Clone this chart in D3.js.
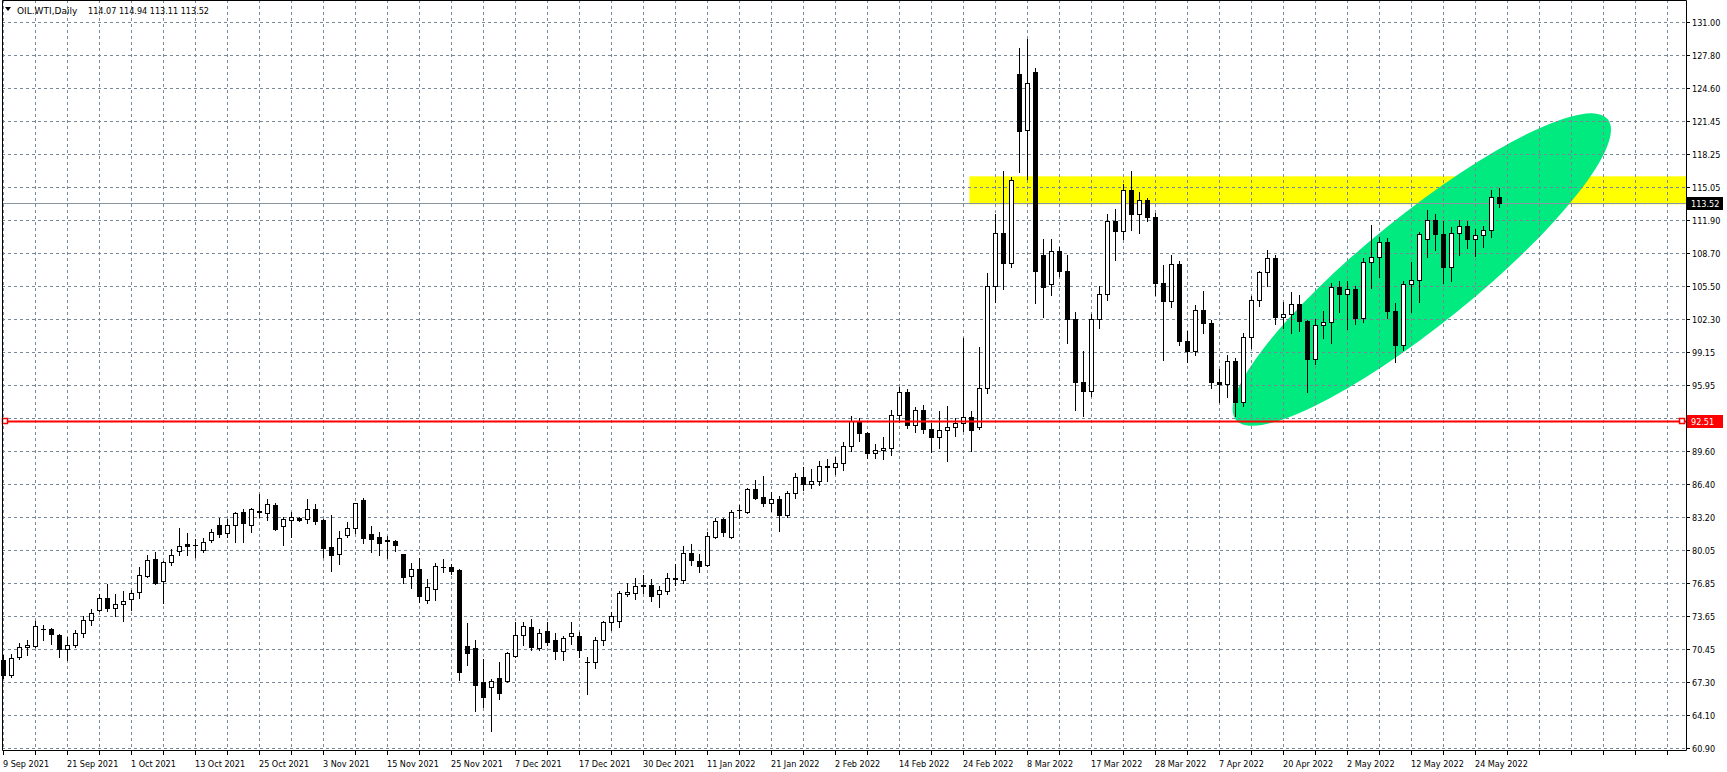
<!DOCTYPE html>
<html><head><meta charset="utf-8">
<script src="https://cdn.jsdelivr.net/npm/d3@7"></script>
<style>
html,body{margin:0;padding:0;background:#fff;overflow:hidden}
svg{display:block}
text{font-family:"DejaVu Sans Condensed","DejaVu Sans",sans-serif;font-size:9px;fill:#000}
text.sym{font-family:"DejaVu Sans",sans-serif}
</style></head><body>
<svg id="c" width="1727" height="772"></svg>
<script>
// ---- data (daily bars, index 0 = 9 Sep 2021) ----
const opens = [69.38,67.94,69.7,70.65,70.75,72.37,72.4,71.83,70.49,70.81,71.99,73.26,74.25,75.43,74.38,74.76,
75.25,75.98,77.51,79.17,77.0,78.85,79.9,80.55,80.5,80.03,80.98,82.42,81.62,82.48,83.69,82.48,
83.79,83.63,84.33,82.29,82.93,83.08,82.99,83.95,82.93,80.27,79.67,81.46,82.1,84.81,81.56,81.24,
80.95,80.91,79.67,77.5,78.2,75.21,76.29,78.36,78.33,78.04,70.75,70.56,67.24,66.83,67.69,67.37,
69.79,71.77,72.56,70.56,72.18,71.32,70.27,71.7,71.7,69.22,69.22,71.29,73.04,73.14,75.81,75.91,
76.55,76.63,75.8,76.06,77.27,77.08,79.72,78.99,78.54,81.25,83.0,81.32,83.87,83.64,85.87,85.14,
84.6,84.9,83.4,85.5,87.1,86.4,86.7,88.1,88.0,88.4,90.1,92.5,91.3,89.4,89.7,89.9,
93.1,95.3,92.1,93.5,91.7,90.9,91.6,91.9,92.3,92.9,91.9,95.7,105.5,110.6,107.7,126.0,
120.6,126.2,108.5,105.7,108.9,107.0,102.3,96.2,95.4,102.3,104.7,111.8,110.8,114.8,112.5,113.8,
112.2,105.8,104.1,107.6,100.2,99.2,103.2,101.9,96.2,96.0,98.3,94.3,100.6,104.2,106.9,108.2,
102.5,102.8,103.8,102.1,98.5,101.7,102.0,105.4,104.7,105.2,102.4,107.8,108.3,109.8,103.1,99.8,
105.7,106.1,110.0,111.9,110.5,107.3,110.6,111.3,110.0,110.4,110.9,114.07];
const highs = [69.85,70.01,71.07,71.29,73.2,72.79,72.5,71.9,71.57,72.31,73.68,74.32,75.75,76.7,75.75,76.07,
76.14,78.37,79.55,79.87,78.91,80.12,82.19,81.65,81.08,81.14,82.04,83.15,82.99,83.72,83.95,84.07,
85.44,84.9,84.52,83.24,83.72,83.2,84.9,84.43,82.99,83.36,81.87,82.7,84.58,85.0,82.35,81.72,
81.4,81.0,79.67,78.78,79.25,77.18,78.78,79.16,78.62,78.14,72.98,71.29,69.54,67.56,69.22,70.17,
73.1,73.04,73.36,72.4,73.1,71.99,71.7,73.04,72.08,69.7,71.61,73.2,74.06,76.07,76.86,77.34,
77.65,77.17,76.54,77.75,78.67,80.36,80.58,79.63,81.73,83.13,83.13,83.87,84.34,86.0,86.73,87.15,
85.6,85.2,85.7,87.5,88.0,87.8,88.6,88.8,89.0,90.4,93.0,92.8,91.4,90.3,90.9,93.5,
95.8,95.6,93.8,94.0,92.3,93.4,93.9,92.8,100.5,93.4,99.6,106.8,112.5,116.6,116.0,128.5,
129.4,126.6,110.0,110.0,109.3,108.5,103.0,99.2,102.8,105.5,112.5,112.9,115.4,116.6,114.6,114.0,
112.6,107.5,108.5,107.9,101.2,103.7,105.0,102.2,97.5,98.8,98.6,101.0,104.5,107.0,109.0,108.5,
104.0,104.9,104.6,102.2,102.3,103.1,105.8,106.0,106.0,105.5,108.2,111.4,110.2,110.1,103.9,106.0,
107.8,110.7,112.8,112.5,111.8,111.2,111.9,111.8,111.0,111.3,114.8,114.94];
const lows = [67.62,67.78,69.54,69.92,70.65,71.29,70.99,69.7,69.38,70.65,71.57,72.82,74.16,74.16,73.68,73.14,
74.23,75.41,77.42,76.78,74.93,78.6,79.55,79.49,79.39,79.8,80.82,81.24,81.24,80.76,80.76,81.72,
83.17,82.93,81.94,80.51,81.24,82.83,82.61,82.51,79.33,77.97,78.71,81.3,81.65,80.7,79.8,79.49,
79.25,79.9,76.86,76.32,74.95,74.89,75.18,77.92,77.72,67.47,68.9,64.5,64.82,62.53,65.62,67.3,
69.7,70.87,70.33,70.33,70.81,69.47,69.38,70.97,69.7,66.13,68.64,70.81,72.34,72.56,75.53,75.27,
75.84,75.1,74.47,75.74,76.63,76.79,78.61,77.91,78.45,81.16,81.38,81.16,83.07,83.55,84.98,84.25,
83.8,81.9,83.2,85.0,85.8,86.0,86.3,86.7,87.4,87.7,89.6,90.5,88.9,88.9,88.8,89.2,
92.4,91.8,91.4,91.3,89.5,89.9,88.6,91.0,91.5,89.6,91.7,95.2,104.0,105.2,107.3,116.5,
115.8,103.9,102.5,104.6,106.5,100.0,93.5,93.0,94.9,101.5,104.2,108.0,110.0,110.9,110.6,111.8,
104.6,98.4,103.5,99.8,98.2,98.8,101.0,95.7,94.3,94.8,93.0,93.9,99.5,103.6,105.5,101.8,
101.5,101.0,101.2,95.3,98.0,100.5,100.0,103.0,101.4,101.8,102.0,105.3,106.4,102.4,98.2,99.3,
103.0,104.0,108.3,109.0,105.8,106.0,108.5,109.2,108.4,109.3,110.2,113.11];
const closes = [67.94,69.6,70.65,70.87,72.66,72.4,71.86,70.43,70.87,71.99,73.26,73.9,75.43,74.38,74.76,75.08,
75.82,77.57,79.07,76.87,78.85,79.49,80.44,80.45,80.54,80.82,81.72,81.53,82.48,83.6,82.67,84.01,
83.72,84.43,82.04,83.05,83.24,82.89,83.95,82.83,80.24,79.57,81.14,82.16,84.52,81.2,81.08,80.7,
80.88,80.46,77.41,78.2,75.59,76.48,78.52,78.33,77.95,68.26,70.08,66.99,65.78,67.4,66.25,70.08,
71.77,72.66,70.65,71.99,71.13,70.27,71.51,71.99,70.33,69.19,71.35,73.04,73.68,75.91,76.0,76.55,
76.65,75.58,76.16,77.27,77.2,79.72,79.09,78.51,81.41,82.85,81.79,83.71,83.9,85.87,85.04,84.57,
84.9,83.4,85.5,87.1,86.4,86.7,88.1,88.0,88.4,90.1,92.5,91.3,89.4,89.7,89.9,93.1,
95.3,92.1,93.5,91.7,90.9,91.6,91.9,92.3,92.9,91.6,95.7,105.5,110.6,107.7,115.7,120.5,
125.1,107.0,105.4,108.9,107.0,102.3,96.2,95.4,102.3,104.7,111.8,110.8,114.8,112.5,113.8,112.2,
105.8,104.1,107.6,100.2,99.2,103.2,101.9,96.2,96.0,98.3,94.3,100.6,104.2,106.9,108.2,102.5,
102.8,103.8,102.1,98.5,101.7,102.0,105.4,104.7,105.2,102.4,107.8,108.3,109.8,103.1,99.8,105.7,
106.1,110.5,111.9,110.5,107.3,110.6,111.3,110.0,110.4,110.9,114.1,113.52];
// date labels, one every 8 bars
const dateLabels = ["9 Sep 2021","21 Sep 2021","1 Oct 2021","13 Oct 2021","25 Oct 2021","3 Nov 2021",
"15 Nov 2021","25 Nov 2021","7 Dec 2021","17 Dec 2021","30 Dec 2021","11 Jan 2022","21 Jan 2022",
"2 Feb 2022","14 Feb 2022","24 Feb 2022","8 Mar 2022","17 Mar 2022","28 Mar 2022","7 Apr 2022",
"20 Apr 2022","2 May 2022","12 May 2022","24 May 2022"];
const priceTicks = [131.00,127.80,124.60,121.45,118.25,115.05,111.90,108.70,105.50,102.30,99.15,95.95,
92.75,89.60,86.40,83.20,80.05,76.85,73.65,70.45,67.30,64.10,60.90];
const titleSymbol = "OIL.WTI,Daily";
const titleQuote = ["114.07","114.94","113.11","113.52"];
const supportPrice = 92.51;
const bidPrice = 113.52;
const zonePrices = [116.1, 113.4];
const zoneStartBar = 120.8;
const ellipseEnds = [[154.1, 92.6],[200.6, 121.6]];

(function draw() {
  const W = 1727, H = 772;
  const pL = 2, pR = 1686, pT = 0, pB = 750;
  const svg = d3.select("#c");
  const x = d3.scaleLinear().domain([0, 187]).range([3, 1499]);
  const y = d3.scaleLinear().domain([60.90, 131.00]).range([748, 22]);
  const px = v => Math.round(v) + 0.5;
  const gridColor = "#778899";

  svg.append("rect").attr("width", W).attr("height", H).attr("fill", "#fff");

  // yellow zone
  svg.append("rect")
    .attr("x", x(zoneStartBar)).attr("y", y(zonePrices[0]))
    .attr("width", pR - x(zoneStartBar)).attr("height", y(zonePrices[1]) - y(zonePrices[0]))
    .attr("fill", "#ffff00");

  // green ellipse
  {
    const p1 = [x(ellipseEnds[0][0]), y(ellipseEnds[0][1])];
    const p2 = [x(ellipseEnds[1][0]), y(ellipseEnds[1][1])];
    const cx = (p1[0]+p2[0])/2, cy = (p1[1]+p2[1])/2;
    const a = Math.hypot(p2[0]-p1[0], p2[1]-p1[1]) / 2;
    const ang = Math.atan2(p2[1]-p1[1], p2[0]-p1[0]) * 180 / Math.PI;
    svg.append("ellipse").attr("cx", cx).attr("cy", cy).attr("rx", a).attr("ry", 55)
      .attr("transform", `rotate(${ang},${cx},${cy})`).attr("fill", "#00ea80");
  }

  // grid
  const grid = svg.append("g").attr("stroke", gridColor).attr("stroke-width", 1).attr("stroke-dasharray", "3,3");
  priceTicks.forEach(t => {
    grid.append("line").attr("x1", pL).attr("x2", pR).attr("y1", px(y(t))).attr("y2", px(y(t)));
  });
  for (let i = 0; x(i) < pR - 2; i += 4) {
    grid.append("line").attr("x1", px(x(i))).attr("x2", px(x(i))).attr("y1", pT).attr("y2", pB);
  }

  // bid line
  svg.append("line").attr("x1", pL).attr("x2", pR).attr("y1", px(y(bidPrice))).attr("y2", px(y(bidPrice)))
    .attr("stroke", "#8896a6").attr("stroke-width", 1);

  // candles
  const cg = svg.append("g");
  opens.forEach((o, i) => {
    const c = closes[i], hi = highs[i], lo = lows[i];
    const cx = Math.round(x(i));
    cg.append("line").attr("x1", cx + 0.5).attr("x2", cx + 0.5)
      .attr("y1", Math.round(y(hi))).attr("y2", Math.round(y(lo)) + 1)
      .attr("stroke", "#000").attr("stroke-width", 1);
    const yt = Math.round(y(Math.max(o, c))), yb = Math.round(y(Math.min(o, c)));
    if (yb - yt < 1) {
      cg.append("line").attr("x1", cx - 2).attr("x2", cx + 3).attr("y1", yt + 0.5).attr("y2", yt + 0.5)
        .attr("stroke", "#000");
    } else {
      cg.append("rect").attr("x", cx - 2 + 0.5).attr("y", yt + 0.5).attr("width", 4).attr("height", yb - yt)
        .attr("fill", c >= o ? "#fff" : "#000").attr("stroke", "#000").attr("stroke-width", 1);
    }
  });

  // support line (red)
  const sy = px(y(supportPrice));
  svg.append("line").attr("x1", pL).attr("x2", pR).attr("y1", sy).attr("y2", sy)
    .attr("stroke", "#ff0000").attr("stroke-width", 2);
  [[5, sy], [1682, sy]].forEach(p => {
    svg.append("rect").attr("x", p[0] - 2.5).attr("y", p[1] - 3).attr("width", 5).attr("height", 5)
      .attr("fill", "#fff").attr("stroke", "#ff0000").attr("stroke-width", 1.5);
  });

  // frame
  svg.append("path").attr("d", `M${pL+0.5},${pT+0.5}V${pB+0.5}H${pR+0.5}V${pT+0.5}Z`)
    .attr("fill", "none").attr("stroke", "#000").attr("stroke-width", 1);

  // right axis
  const ra = svg.append("g");
  priceTicks.forEach(t => {
    const yy = px(y(t));
    ra.append("line").attr("x1", pR).attr("x2", pR + 4).attr("y1", yy).attr("y2", yy).attr("stroke", "#000");
    ra.append("text").attr("x", pR + 6).attr("y", yy).attr("dy", "0.35em").text(d3.format(".2f")(t));
  });
  function priceTag(p, bg) {
    const yy = px(y(p));
    ra.append("rect").attr("x", pR + 1).attr("y", yy - 6.5).attr("width", 36).attr("height", 13).attr("fill", bg);
    ra.append("text").attr("x", pR + 5).attr("y", yy).attr("dy", "0.35em").style("fill", "#fff")
      .text(d3.format(".2f")(p));
  }
  priceTag(supportPrice, "#ff0000");
  priceTag(bidPrice, "#000");

  // bottom axis
  const ba = svg.append("g");
  for (let i = 0; x(i) < pR - 2; i += 4) {
    const xx = px(x(i));
    ba.append("line").attr("x1", xx).attr("x2", xx).attr("y1", pB).attr("y2", pB + 5).attr("stroke", "#000");
  }
  dateLabels.forEach((d, k) => {
    ba.append("text").attr("x", Math.round(x(k * 8))).attr("y", 767).text(d);
  });

  // title
  svg.append("path").attr("d", "M5,7 L11,7 L8,11 Z").attr("fill", "#000");
  svg.append("text").attr("class", "sym").attr("x", 17).attr("y", 14).text(titleSymbol);
  svg.append("text").attr("x", 88).attr("y", 14).text(titleQuote.join(" "));
})();
</script>
</body></html>
